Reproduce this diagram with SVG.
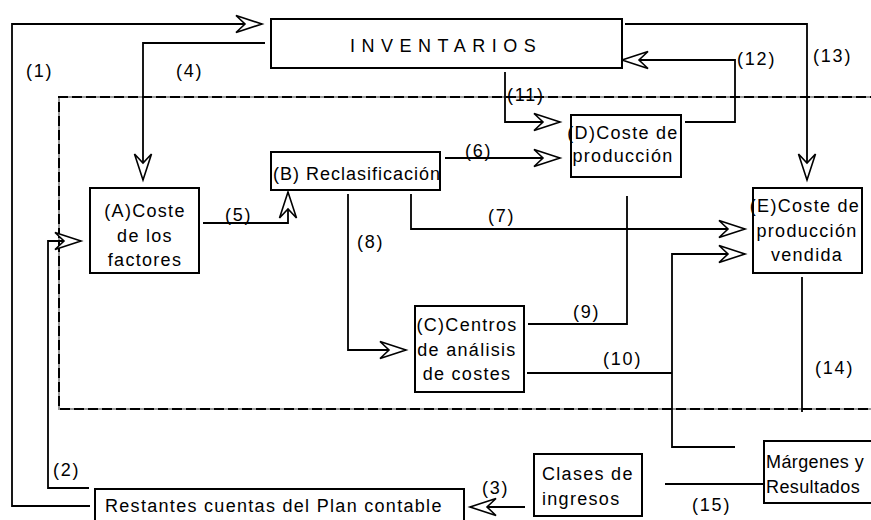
<svg xmlns="http://www.w3.org/2000/svg" width="871" height="520" viewBox="0 0 871 520">
<style>
.box{fill:#fff;stroke:#000;stroke-width:2}
.t{font-family:"Liberation Sans",Arial,sans-serif;font-size:18px;fill:#000;letter-spacing:1.3px}
.c{fill:none;stroke:#000;stroke-width:1.8}
.lbl{font-family:"Liberation Sans",Arial,sans-serif;font-size:18px;fill:#000;letter-spacing:1.8px}
</style>
<defs>
<marker id="arr" markerUnits="userSpaceOnUse" orient="auto" refX="0" refY="0" markerWidth="30" markerHeight="20" viewBox="-28 -10 30 20" overflow="visible">
<path d="M0,0 L-26,-8.5 L-17,0 L-26,8.5 Z" fill="#fff" stroke="#000" stroke-width="1.6" stroke-linejoin="miter"/>
</marker>
</defs>
<rect width="871" height="520" fill="#fff"/>
<g id="frame">
<path d="M880,97 H59 V409 H880" fill="none" stroke="#999" stroke-width="2"/>
<path d="M880,97 H59 V409 H880" fill="none" stroke="#000" stroke-width="2" stroke-dasharray="10 4"/>
</g>
<g id="connectors">
<path class="c" d="M90,506 H12 V24 H262" marker-end="url(#arr)"/>
<path class="c" d="M89,488 H48 V241 H81" marker-end="url(#arr)"/>
<path class="c" d="M525,507 H470" marker-end="url(#arr)"/>
<path class="c" d="M265,43 H143 V180" marker-end="url(#arr)"/>
<path class="c" d="M203,223 H288 V192" marker-end="url(#arr)"/>
<path class="c" d="M445,158 H560" marker-end="url(#arr)"/>
<path class="c" d="M411,194 V229 H745" marker-end="url(#arr)"/>
<path class="c" d="M348,194 V350 H406" marker-end="url(#arr)"/>
<path class="c" d="M528,324 H627 V196"/>
<path class="c" d="M527,373 H672"/>
<path class="c" d="M735,447 H672 V254 H745" marker-end="url(#arr)"/>
<path class="c" d="M505,72 V122 H560" marker-end="url(#arr)"/>
<path class="c" d="M685,122 H735 V60 H622" marker-end="url(#arr)"/>
<path class="c" d="M625,24 H807 V180" marker-end="url(#arr)"/>
<path class="c" d="M802,277 V412"/>
<path class="c" d="M764,484 H665"/>
<text class="lbl" x="26" y="77">(1)</text>
<text class="lbl" x="53" y="476">(2)</text>
<text class="lbl" x="482" y="494">(3)</text>
<text class="lbl" x="176" y="77">(4)</text>
<text class="lbl" x="225" y="221">(5)</text>
<text class="lbl" x="465" y="157">(6)</text>
<text class="lbl" x="488" y="222">(7)</text>
<text class="lbl" x="357" y="248">(8)</text>
<text class="lbl" x="573" y="318">(9)</text>
<text class="lbl" x="603" y="365">(10)</text>
<text class="lbl" x="507" y="101">(11)</text>
<text class="lbl" x="737" y="65">(12)</text>
<text class="lbl" x="813" y="62">(13)</text>
<text class="lbl" x="815" y="374">(14)</text>
<text class="lbl" x="692" y="511">(15)</text>
</g>
<g id="inventarios">
<rect class="box" x="271" y="19" width="351" height="49"/>
<text class="t" x="350" y="52" style="letter-spacing:6.5px">INVENTARIOS</text>
</g>
<g id="nodeA">
<rect class="box" x="90" y="188" width="109" height="85"/>
<text class="t" x="145" y="217" text-anchor="middle">(A)Coste</text>
<text class="t" x="145" y="242" text-anchor="middle">de los</text>
<text class="t" x="145" y="266" text-anchor="middle">factores</text>
</g>
<g id="nodeB">
<rect class="box" x="271" y="152" width="169" height="38"/>
<text class="t" x="273" y="180" style="letter-spacing:1px">(B) Reclasificación</text>
</g>
<g id="nodeC">
<rect class="box" x="415" y="306" width="109" height="86"/>
<text class="t" x="467" y="331" text-anchor="middle">(C)Centros</text>
<text class="t" x="467" y="356" text-anchor="middle">de análisis</text>
<text class="t" x="467" y="380" text-anchor="middle">de costes</text>
</g>
<g id="nodeD">
<rect class="box" x="571" y="115" width="110" height="62"/>
<text class="t" x="623" y="139" text-anchor="middle">(D)Coste de</text>
<text class="t" x="623" y="162" text-anchor="middle">producción</text>
</g>
<g id="nodeE">
<rect class="box" x="753" y="188" width="109" height="85"/>
<text class="t" x="805" y="212" text-anchor="middle">(E)Coste de</text>
<text class="t" x="807" y="237" text-anchor="middle">producción</text>
<text class="t" x="807" y="261" text-anchor="middle">vendida</text>
</g>
<g id="restantes">
<rect class="box" x="95" y="489" width="369" height="40"/>
<text class="t" x="105" y="512">Restantes cuentas del Plan contable</text>
</g>
<g id="clases">
<rect class="box" x="534" y="454" width="108" height="62"/>
<text class="t" x="542" y="480">Clases de</text>
<text class="t" x="542" y="505">ingresos</text>
</g>
<g id="margenes">
<rect class="box" x="764" y="441" width="115" height="62"/>
<text class="t" x="766" y="468" style="letter-spacing:0.4px">Márgenes y</text>
<text class="t" x="766" y="493" style="letter-spacing:0.4px">Resultados</text>
</g>
</svg>
